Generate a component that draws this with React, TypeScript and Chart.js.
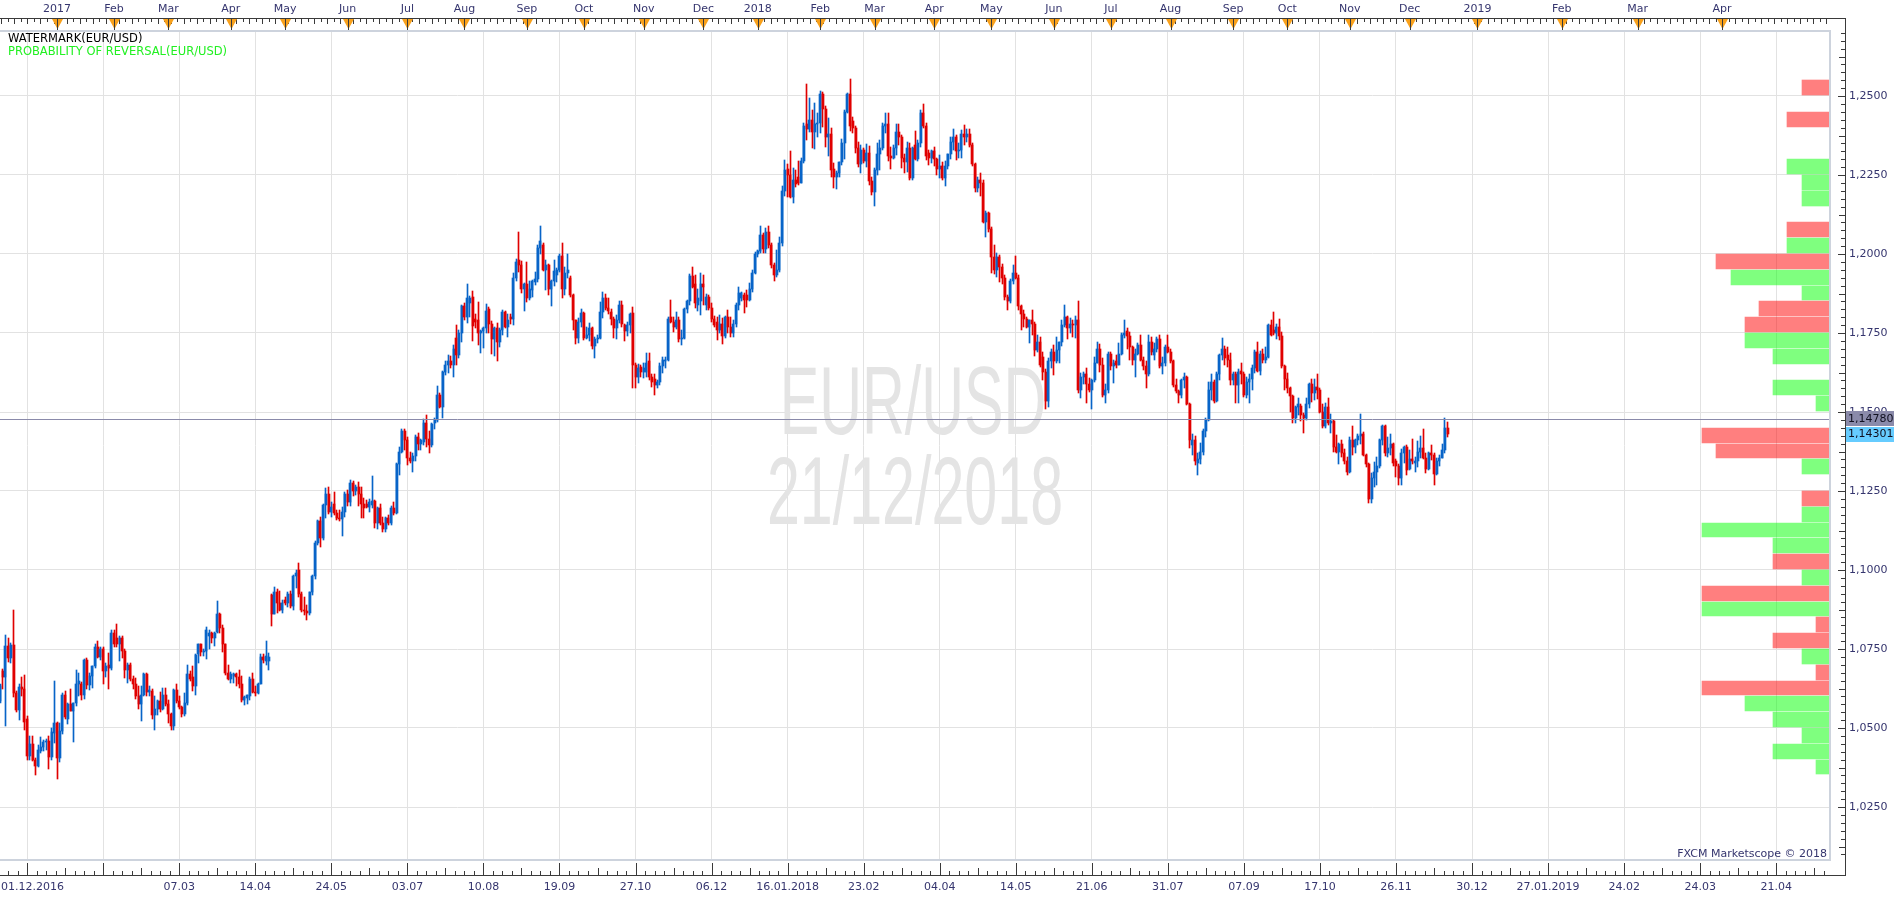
import React, { useEffect, useRef } from 'react';
import { Chart, registerables } from 'chart.js';
Chart.register(...registerables);

// Daily EUR/USD candles: [open, high, low, close] in pips above 1.0000
const dec2016 = [[585,640,578,632],[680,688,625,660],[660,793,505,760],[760,784,710,722],[722,768,705,762],[762,872,597,612],[612,618,550,558],[558,640,526,630],[630,660,600,622],[622,667,495,520],[530,537,400,410],[410,474,400,450],[450,476,394,400],[400,405,352,380],[380,447,375,430],[428,470,420,440],[440,463,426,455],[455,466,431,458],[458,476,371,408],[408,500,400,488],[484,650,453,516]];
const jan2017 = [[516,520,340,405],[405,516,391,490],[490,611,482,605],[605,618,528,535],[530,579,512,575],[575,625,553,555],[555,580,455,578],[578,682,569,640],[640,673,600,650],[640,645,590,605],[605,717,593,715],[715,720,625,635],[635,673,620,665],[665,696,626,695],[695,767,690,755],[755,775,720,725],[725,757,715,750],[750,755,640,680],[680,707,660,695],[700,738,622,690],[690,809,685,800]];
const feb2017 = [[800,810,755,765],[785,828,757,765],[765,791,712,785],[785,791,720,745],[745,749,657,685],[685,706,642,700],[700,706,648,655],[655,666,622,640],[640,657,592,600],[600,632,561,575],[575,632,521,605],[605,675,601,670],[670,675,601,615],[615,632,601,619],[618,625,527,540],[540,601,495,560],[560,590,541,585],[585,615,550,560],[560,627,558,605],[605,627,569,575]];
const mar2017 = [[575,590,516,545],[545,548,495,505],[505,622,495,620],[620,638,579,585],[585,601,560,565],[565,569,534,545],[545,611,537,580],[580,698,572,670],[670,680,648,655],[660,696,616,632],[632,735,603,730],[735,767,706,765],[765,767,727,740],[740,749,727,745],[745,819,719,810],[790,809,750,800],[800,804,770,785],[785,805,761,800],[805,903,800,862],[862,865,801,815],[815,825,741,765],[765,767,669,675],[675,698,653,655]];
const apr2017 = [[655,677,643,670],[665,675,641,670],[670,675,634,660],[660,685,627,640],[640,664,582,590],[590,601,572,598],[595,606,577,605],[600,660,590,655],[655,675,611,615],[615,634,601,610],[610,643,608,640],[640,733,638,725],[725,733,706,715],[712,775,700,728],[712,736,683,726],[920,925,823,862],[862,947,860,930],[930,940,865,895],[895,935,870,875],[875,905,865,895]];
const may2017 = [[905,915,890,897],[895,931,884,925],[925,935,879,885],[885,984,873,980],[980,1000,944,990],[1000,1023,915,925],[925,930,868,875],[875,915,858,870],[870,889,842,865],[865,931,858,930],[930,984,921,980],[980,1092,972,1085],[1085,1158,1079,1155],[1155,1169,1074,1100],[1100,1208,1095,1205],[1205,1261,1164,1240],[1240,1264,1176,1185],[1185,1216,1169,1200],[1210,1248,1175,1180],[1180,1190,1158,1165],[1165,1190,1155,1162],[1160,1200,1108,1185],[1185,1248,1169,1240]];
const jun2017 = [[1240,1253,1202,1215],[1215,1285,1202,1275],[1275,1282,1234,1250],[1250,1270,1237,1262],[1262,1277,1202,1240],[1240,1264,1166,1210],[1210,1229,1166,1195],[1210,1221,1195,1200],[1200,1225,1185,1215],[1205,1296,1195,1218],[1218,1222,1132,1150],[1150,1200,1130,1196],[1196,1208,1142,1150],[1150,1169,1119,1130],[1130,1169,1120,1165],[1165,1174,1142,1150],[1150,1202,1142,1195],[1195,1214,1174,1180],[1180,1340,1177,1335],[1335,1390,1300,1375],[1375,1445,1369,1440],[1440,1445,1380,1410]];
const jul2017 = [[1410,1422,1332,1355],[1355,1374,1338,1345],[1345,1370,1311,1360],[1360,1428,1345,1420],[1420,1432,1380,1400],[1400,1415,1380,1410],[1405,1477,1396,1465],[1465,1490,1390,1415],[1415,1440,1371,1395],[1395,1466,1390,1462],[1465,1480,1445,1475],[1475,1583,1469,1555],[1555,1560,1512,1515],[1515,1630,1480,1625],[1625,1660,1617,1650],[1650,1680,1622,1660],[1660,1677,1640,1650],[1650,1712,1612,1700],[1735,1776,1649,1680],[1680,1759,1670,1750],[1750,1839,1722,1835]];
const aug2017 = [[1835,1845,1791,1800],[1800,1905,1783,1860],[1845,1868,1802,1862],[1865,1884,1726,1773],[1795,1810,1767,1785],[1790,1849,1712,1750],[1750,1759,1688,1755],[1755,1770,1704,1765],[1765,1842,1749,1820],[1825,1831,1750,1780],[1780,1788,1684,1730],[1730,1770,1677,1765],[1765,1781,1662,1720],[1720,1765,1707,1760],[1760,1823,1744,1815],[1815,1820,1765,1770],[1770,1810,1738,1790],[1800,1810,1780,1795],[1795,1940,1775,1925],[1925,1985,1915,1975],[1980,2070,1944,1965],[1965,1978,1878,1890],[1890,1909,1821,1905]];
const sep2017 = [[1905,1976,1849,1860],[1860,1916,1855,1890],[1885,1918,1865,1915],[1910,1944,1902,1920],[1920,2030,1912,2020],[2020,2090,2000,2040],[2030,2035,1947,1950],[1950,1981,1886,1965],[1965,1968,1870,1890],[1890,1918,1836,1915],[1915,1981,1899,1945],[1935,1955,1912,1950],[1950,1999,1944,1995],[1995,2035,1860,1890],[1890,1960,1870,1940],[1940,2000,1925,1950],[1925,1930,1865,1870],[1870,1872,1759,1790],[1790,1791,1715,1735],[1735,1796,1719,1785],[1785,1825,1770,1812]];
const oct2017 = [[1812,1815,1728,1735],[1735,1770,1730,1745],[1745,1781,1725,1765],[1765,1770,1700,1710],[1710,1738,1670,1730],[1730,1745,1719,1735],[1735,1849,1730,1815],[1815,1880,1796,1860],[1860,1873,1823,1830],[1830,1860,1810,1820],[1818,1825,1775,1795],[1795,1800,1735,1765],[1765,1807,1730,1790],[1790,1852,1781,1840],[1840,1852,1770,1780],[1775,1780,1725,1755],[1755,1786,1742,1775],[1775,1812,1749,1810],[1812,1833,1575,1650],[1650,1655,1575,1610],[1610,1652,1591,1640],[1642,1650,1612,1625]];
const nov2017 = [[1625,1654,1607,1640],[1625,1686,1612,1655],[1660,1688,1601,1610],[1610,1620,1580,1595],[1605,1620,1554,1585],[1585,1600,1575,1595],[1595,1654,1585,1645],[1645,1675,1622,1665],[1660,1675,1638,1665],[1665,1802,1660,1795],[1800,1855,1783,1785],[1785,1802,1754,1770],[1770,1817,1762,1790],[1790,1802,1720,1730],[1730,1759,1712,1735],[1735,1830,1732,1825],[1825,1856,1812,1850],[1850,1936,1839,1930],[1930,1960,1891,1895],[1905,1934,1828,1845],[1840,1890,1820,1860],[1850,1940,1807,1905]];
const dec2017 = [[1905,1934,1839,1895],[1840,1873,1823,1865],[1865,1870,1823,1830],[1830,1844,1786,1795],[1795,1805,1770,1775],[1785,1802,1728,1760],[1760,1807,1749,1780],[1780,1796,1715,1740],[1740,1805,1733,1800],[1800,1823,1749,1770],[1770,1800,1738,1750],[1750,1790,1738,1780],[1780,1845,1770,1840],[1840,1894,1823,1875],[1860,1881,1850,1878],[1870,1875,1812,1855],[1870,1886,1833,1855],[1855,1907,1851,1890],[1890,1949,1881,1940],[1940,2005,1936,2000]];
const jan2018 = [[2000,2013,1992,2008],[2008,2088,2002,2060],[2060,2065,2002,2015],[2015,2081,2002,2070],[2070,2088,2018,2030],[2030,2035,1955,1965],[1965,1970,1916,1935],[1935,2013,1926,1950],[1950,2055,1942,2035],[2035,2215,2025,2200],[2200,2296,2184,2265],[2270,2285,2181,2250],[2250,2325,2176,2180],[2180,2271,2162,2235],[2235,2266,2211,2220],[2245,2295,2218,2225],[2225,2303,2224,2295],[2295,2415,2287,2405],[2410,2537,2361,2395],[2395,2495,2387,2425],[2425,2456,2334,2385],[2385,2477,2331,2410],[2410,2447,2371,2415]];
const feb2018 = [[2415,2517,2382,2505],[2505,2514,2403,2460],[2460,2468,2340,2370],[2370,2429,2310,2380],[2380,2398,2243,2265],[2270,2287,2208,2245],[2245,2264,2205,2255],[2255,2292,2245,2290],[2290,2363,2282,2350],[2350,2456,2300,2450],[2450,2510,2445,2505],[2505,2555,2390,2405],[2420,2435,2382,2400],[2400,2405,2319,2335],[2335,2355,2276,2285],[2285,2345,2255,2330],[2330,2335,2287,2295],[2295,2348,2276,2320],[2320,2342,2218,2230],[2230,2245,2187,2195]];
const mar2018 = [[2195,2271,2152,2265],[2265,2350,2250,2315],[2315,2361,2266,2335],[2335,2413,2329,2405],[2405,2445,2382,2410],[2410,2445,2294,2310],[2310,2340,2268,2305],[2305,2345,2300,2335],[2335,2410,2313,2385],[2385,2410,2345,2370],[2370,2375,2271,2305],[2305,2315,2255,2290],[2290,2355,2260,2335],[2335,2350,2234,2240],[2240,2340,2234,2335],[2345,2390,2297,2300],[2300,2361,2294,2350],[2350,2456,2340,2445],[2445,2476,2398,2405],[2405,2415,2297,2310],[2320,2330,2282,2305],[2305,2329,2289,2325]];
const apr2018 = [[2325,2340,2280,2300],[2300,2305,2250,2270],[2270,2313,2240,2280],[2280,2290,2234,2240],[2240,2295,2215,2280],[2280,2318,2270,2315],[2315,2371,2300,2355],[2355,2395,2330,2370],[2370,2375,2297,2325],[2325,2350,2305,2330],[2330,2392,2303,2380],[2380,2408,2345,2370],[2370,2394,2355,2380],[2380,2395,2340,2345],[2345,2350,2280,2285],[2285,2287,2197,2210],[2210,2245,2197,2235],[2235,2255,2185,2225],[2225,2235,2097,2100],[2100,2135,2055,2130],[2130,2134,2071,2080]];
const may2018 = [[2080,2085,1939,1990],[1990,2028,1937,1950],[1950,2002,1928,1990],[1990,1998,1910,1960],[1960,1968,1905,1925],[1925,1935,1854,1865],[1865,1870,1823,1850],[1850,1920,1845,1915],[1915,1965,1905,1940],[1940,1995,1920,1925],[1925,1935,1823,1835],[1835,1840,1760,1810],[1810,1823,1770,1795],[1795,1800,1765,1770],[1770,1791,1717,1790],[1790,1823,1744,1780],[1780,1785,1676,1695],[1695,1745,1690,1720],[1720,1738,1643,1650],[1675,1690,1600,1625],[1625,1635,1510,1535],[1535,1670,1517,1660],[1660,1700,1640,1690]];
const jun2018 = [[1690,1712,1617,1660],[1660,1738,1654,1695],[1695,1722,1656,1720],[1720,1791,1709,1775],[1775,1840,1770,1800],[1800,1805,1730,1765],[1765,1796,1750,1780],[1780,1791,1738,1775],[1775,1805,1733,1790],[1790,1852,1560,1570],[1570,1622,1545,1610],[1610,1625,1590,1620],[1620,1638,1530,1590],[1590,1607,1564,1570],[1570,1605,1508,1600],[1600,1675,1595,1655],[1655,1720,1654,1700],[1700,1714,1628,1650],[1650,1670,1548,1555],[1555,1590,1527,1570],[1570,1690,1560,1685]];
const jul2018 = [[1685,1690,1633,1645],[1645,1665,1591,1655],[1660,1680,1638,1650],[1650,1717,1649,1685],[1685,1749,1680,1745],[1745,1791,1733,1750],[1755,1765,1700,1740],[1740,1754,1664,1705],[1705,1710,1650,1665],[1665,1700,1612,1685],[1685,1717,1680,1712],[1712,1745,1660,1665],[1665,1675,1633,1645],[1645,1660,1575,1620],[1620,1744,1615,1720],[1720,1738,1680,1690],[1680,1717,1664,1700],[1700,1738,1690,1730],[1730,1745,1640,1645],[1645,1675,1620,1655],[1655,1712,1646,1705],[1705,1745,1686,1690]];
const aug2018 = [[1690,1700,1654,1660],[1660,1665,1578,1585],[1585,1604,1559,1565],[1565,1570,1529,1555],[1555,1604,1545,1600],[1600,1622,1575,1610],[1610,1614,1522,1525],[1525,1530,1385,1410],[1395,1430,1364,1410],[1410,1424,1332,1345],[1340,1369,1301,1350],[1350,1401,1335,1375],[1375,1445,1364,1440],[1440,1480,1420,1475],[1475,1596,1470,1570],[1570,1620,1538,1595],[1595,1600,1529,1535],[1535,1625,1533,1620],[1620,1685,1600,1680],[1680,1735,1664,1700],[1700,1710,1650,1670],[1680,1707,1643,1665],[1665,1686,1585,1600]];
const sep2018 = [[1600,1625,1585,1620],[1620,1625,1527,1585],[1585,1635,1530,1625],[1630,1656,1590,1620],[1620,1625,1546,1555],[1555,1612,1545,1595],[1595,1620,1530,1605],[1605,1650,1570,1640],[1640,1696,1622,1690],[1690,1722,1628,1630],[1630,1693,1617,1685],[1685,1700,1654,1665],[1665,1707,1654,1675],[1675,1780,1670,1775],[1775,1790,1740,1745],[1760,1815,1745,1750],[1750,1780,1730,1770],[1770,1795,1728,1740],[1740,1754,1638,1645],[1645,1649,1570,1605]];
const oct2018 = [[1605,1622,1560,1575],[1575,1580,1500,1550],[1550,1555,1464,1480],[1480,1520,1465,1515],[1515,1543,1490,1525],[1520,1525,1470,1490],[1490,1497,1432,1480],[1480,1543,1475,1525],[1525,1593,1512,1590],[1590,1603,1533,1560],[1560,1603,1538,1580],[1580,1620,1540,1570],[1570,1575,1496,1500],[1500,1525,1448,1455],[1455,1527,1450,1515],[1515,1543,1459,1465],[1465,1495,1435,1470],[1470,1475,1374,1390],[1390,1427,1370,1375],[1375,1401,1335,1400],[1400,1411,1359,1370],[1370,1382,1337,1345],[1345,1359,1302,1310]];
const nov2018 = [[1310,1420,1308,1410],[1410,1455,1365,1390],[1390,1415,1370,1410],[1410,1430,1395,1425],[1425,1495,1400,1430],[1430,1438,1360,1365],[1365,1368,1327,1335],[1335,1340,1213,1225],[1225,1306,1213,1290],[1290,1343,1264,1310],[1310,1359,1269,1330],[1330,1414,1322,1410],[1410,1459,1395,1455],[1455,1460,1360,1370],[1370,1422,1359,1385],[1385,1430,1365,1400],[1400,1401,1330,1340],[1345,1350,1295,1330],[1330,1335,1268,1290],[1290,1382,1269,1370],[1370,1392,1340,1390],[1390,1395,1300,1315]];
const dec2018 = [[1320,1380,1316,1350],[1350,1414,1337,1345],[1340,1359,1311,1345],[1345,1409,1325,1375],[1375,1425,1356,1385],[1385,1445,1350,1355],[1355,1370,1308,1320],[1320,1375,1315,1370],[1370,1395,1348,1365],[1365,1370,1270,1305],[1305,1353,1300,1345],[1345,1365,1330,1355],[1355,1399,1353,1380],[1380,1480,1369,1450],[1450,1468,1420,1430]];

const monthBlocks = [dec2016, jan2017, feb2017, mar2017, apr2017, may2017, jun2017, jul2017, aug2017, sep2017, oct2017, nov2017, dec2017, jan2018, feb2018, mar2018, apr2018, may2018, jun2018, jul2018, aug2018, sep2018, oct2018, nov2018, dec2018];

// Top (month) axis
const monthLabels = ['2017','Feb','Mar','Apr','May','Jun','Jul','Aug','Sep','Oct','Nov','Dec','2018','Feb','Mar','Apr','May','Jun','Jul','Aug','Sep','Oct','Nov','Dec','2019','Feb','Mar','Apr'];
const futureMonthStarts = [544, 575, 603, 634]; // Jan..Apr 2019, calendar-day slots after the last bar

// Bottom (date) axis
const dateTickIdx = [10,38,66,94,122,150,178,206,234,262,290,318,346,374,402,430,458,486,514,542,570,598,626,654];
const dateLabels = ['','','07.03','14.04','24.05','03.07','10.08','19.09','27.10','06.12','16.01.2018','23.02','04.04','14.05','21.06','31.07','07.09','17.10','26.11','30.12','27.01.2019','24.02','24.03','21.04'];
const firstDateLabel = '01.12.2016';

// Price axis
const priceTicks = [1.025,1.05,1.075,1.1,1.125,1.15,1.175,1.2,1.225,1.25];
const lastPrice = 1.1478;
const bidPrice = 1.14301;

// Probability of reversal histogram: bin lower edge (price), length (units), side
const reversalBinLow = [1.2500,1.2400,1.2250,1.2200,1.2150,1.2050,1.2000,1.1950,1.1900,1.1850,1.1800,1.1750,1.1700,1.1650,1.1550,1.1500,1.1400,1.1350,1.1300,1.1200,1.1150,1.1100,1.1050,1.1000,1.0950,1.0900,1.0850,1.0800,1.0750,1.0700,1.0650,1.0600,1.0550,1.0500,1.0450,1.0400,1.0350];
const reversalUnits = [2,3,3,2,2,3,3,8,7,2,5,6,6,4,4,1,9,8,2,2,2,9,4,4,2,9,9,1,4,2,1,9,6,4,2,4,1];
const reversalSide = ['r','r','g','g','g','r','g','r','g','g','r','r','g','g','g','g','r','r','g','r','g','g','g','r','g','r','g','r','r','g','r','r','g','g','g','g','g'];
const binSize = 0.005;

const W = 1903, H = 900;
const PLOT_RIGHT = 1830, PLOT_TOP = 31, PLOT_BOTTOM = 860;
const X_MIN = 0, X_MAX = 673.8;
const Y_MAX = 1.25 + (96 - PLOT_TOP) / 3160;
const Y_MIN = 1.25 - (PLOT_BOTTOM - 96) / 3160;
const HIST_MAX = PLOT_RIGHT / 14.2;

const BLUE = '#0864c8';
const RED = '#e00000';
const AXIS_TEXT = '#35356e';
const FONT = '"DejaVu Sans", Verdana, sans-serif';

export default function App() {
  const ref = useRef<HTMLCanvasElement | null>(null);

  useEffect(() => {
    document.body.style.margin = '0';
    const canvas = ref.current;
    if (!canvas) return;

    const candles: number[][] = ([] as number[][]).concat(...monthBlocks);
    const px = (v: number) => 1 + v / 10000;
    const wickData = candles.map((c, i) => ({ x: i, y: [px(c[2]), px(c[1])] }));
    const bodyData = candles.map((c, i) => {
      const lo = Math.min(c[0], c[3]);
      const hi = Math.max(c[0], c[3], lo + 3);
      return { x: i, y: [px(lo), px(hi)] };
    });
    const colors = candles.map((c) => (c[3] >= c[0] ? BLUE : RED));

    const monthStarts: number[] = [];
    let acc = 0;
    monthBlocks.forEach((m, k) => {
      if (k > 0) monthStarts.push(acc);
      acc += m.length;
    });
    const allMonthStarts = monthStarts.concat(futureMonthStarts);

    const histData = reversalBinLow.map((lo, k) => ({ x: reversalUnits[k], y: lo + binSize / 2 }));
    const histColors = reversalSide.map((s) => (s === 'r' ? 'rgba(255,0,0,0.5)' : 'rgba(0,255,0,0.5)'));

    const decor = {
      id: 'decor',
      beforeDatasetsDraw(chart: any) {
        const ctx = chart.ctx;
        const ys = chart.scales.y;
        // snap candle rectangles to whole pixels (crisp 1px wicks / 2px bodies)
        const bodies = chart.getDatasetMeta(1).data;
        bodies.forEach((el: any) => {
          el.x = Math.round(el.x);
          const top = Math.round(el.y);
          let base = Math.round(el.base);
          if (base - top < 1) base = top + 1;
          el.y = top;
          el.base = base;
        });
        const wicks = chart.getDatasetMeta(2).data;
        wicks.forEach((el: any) => {
          el.x = Math.round(el.x - 0.5) + 0.5;
          el.y = Math.round(el.y);
          el.base = Math.round(el.base);
        });
        // histogram bars: fill each price bin, leaving a 1px separator
        const hist = chart.getDatasetMeta(3).data;
        hist.forEach((el: any, k: number) => {
          const top = Math.round(ys.getPixelForValue(reversalBinLow[k] + binSize));
          const bottom = Math.round(ys.getPixelForValue(reversalBinLow[k])) - 1;
          el.y = (top + bottom) / 2;
          el.height = bottom - top;
          el.x = Math.round(el.x);
          el.base = Math.round(el.base);
        });
        const line = chart.getDatasetMeta(0).data;
        line.forEach((el: any) => { el.y = Math.round(el.y) + 0.5; });

        ctx.save();
        ctx.beginPath();
        const ca = chart.chartArea;
        ctx.rect(ca.left, ca.top, ca.right - ca.left, ca.bottom - ca.top);
        ctx.clip();
        ctx.fillStyle = '#e4e4e4';
        ctx.font = '97px "Liberation Sans", Arial, sans-serif';
        ctx.textAlign = 'center';
        ctx.textBaseline = 'alphabetic';
        ctx.save();
        ctx.translate(913, 434);
        ctx.scale(0.61, 1);
        ctx.fillText('EUR/USD', 0, 0);
        ctx.restore();
        ctx.save();
        ctx.translate(915, 524);
        ctx.scale(0.61, 1);
        ctx.fillText('21/12/2018', 0, 0);
        ctx.restore();
        ctx.restore();
      },
      afterDraw(chart: any) {
        const ctx = chart.ctx;
        const ca = chart.chartArea;
        const xs = chart.scales.x;
        const ys = chart.scales.y;
        ctx.save();

        // plot frame
        ctx.fillStyle = '#cdd3dd';
        ctx.fillRect(0, ca.top - 1, ca.right, 2);
        ctx.fillRect(ca.right - 1, ca.top - 1, 2, ca.bottom - ca.top + 2);
        ctx.fillRect(0, ca.bottom - 1, ca.right + 1, 2);

        // axis lines
        const axisX = 1845;
        const topY = 18;
        const botY = 875;
        ctx.fillStyle = '#3a3a3a';
        ctx.fillRect(0, topY, axisX + 1, 1);
        ctx.fillRect(axisX, topY, 1, botY - topY + 1);
        ctx.fillRect(0, botY, axisX + 1, 1);

        // top axis minor ticks
        let n = 0;
        for (let v = 0.5; v < X_MAX; v += 2.4) {
          const x = Math.round(xs.getPixelForValue(v));
          ctx.fillRect(x, topY + 1, 1, n % 2 === 0 ? 5 : 3);
          n++;
        }
        // top axis month ticks and triangles
        allMonthStarts.forEach((m) => {
          const x = Math.round(xs.getPixelForValue(m));
          ctx.fillStyle = '#f9a11b';
          ctx.beginPath();
          ctx.moveTo(x - 5, topY + 1);
          ctx.lineTo(x + 6, topY + 1);
          ctx.lineTo(x + 0.5, topY + 11);
          ctx.closePath();
          ctx.fill();
          ctx.fillStyle = '#3a3a3a';
          ctx.fillRect(x, topY + 1, 1, ca.top - topY - 2);
        });

        // bottom axis ticks
        ctx.fillStyle = '#3a3a3a';
        for (let k = -1; k < dateTickIdx.length + 1; k++) {
          const base = 10 + 28 * k;
          for (let j = 0; j < 8; j++) {
            const v = base + 3.5 * j;
            if (v < X_MIN || v > X_MAX) continue;
            const x = Math.round(xs.getPixelForValue(v));
            const len = j === 0 ? 12 : j === 4 ? 7 : 4;
            ctx.fillRect(x, botY - len, 1, len);
          }
        }

        // price axis ticks
        for (let v = 1.0100; v < Y_MAX; v += 0.0025) {
          const y = Math.round(ys.getPixelForValue(v));
          const r = Math.round(v * 10000) % 250;
          const len = r === 0 ? 7 : Math.round(v * 10000) % 125 === 0 ? 6 : 4;
          ctx.fillRect(axisX - len, y, len, 1);
        }

        // first date label
        ctx.font = '11px ' + FONT;
        ctx.fillStyle = AXIS_TEXT;
        ctx.textAlign = 'left';
        ctx.textBaseline = 'middle';
        ctx.fillText(firstDateLabel, 1, 887.6);

        // indicator legend
        ctx.font = '11.5px ' + FONT;
        ctx.fillStyle = '#000000';
        ctx.fillText('WATERMARK(EUR/USD)', 8, 39);
        ctx.fillStyle = '#22f022';
        ctx.fillText('PROBABILITY OF REVERSAL(EUR/USD)', 8, 52);

        // copyright
        ctx.font = '11px ' + FONT;
        ctx.fillStyle = AXIS_TEXT;
        ctx.textAlign = 'right';
        ctx.fillText('FXCM Marketscope \u00a9 2018', ca.right - 3, 854);

        // price boxes
        const box = (p: number, bg: string, txt: string) => {
          const y = ys.getPixelForValue(p);
          ctx.fillStyle = bg;
          ctx.fillRect(axisX + 1, Math.round(y - 7.5), 48, 15);
          ctx.fillStyle = '#101020';
          ctx.textAlign = 'left';
          ctx.fillText(txt, axisX + 3, y + 0.5);
        };
        box(lastPrice, '#8a8aaa', lastPrice.toFixed(5).replace('.', ','));
        box(bidPrice, '#66ccff', bidPrice.toFixed(5).replace('.', ','));
        ctx.restore();
      },
    };

    const chart = new Chart(canvas, {
      type: 'bar',
      data: {
        datasets: [
          {
            type: 'line',
            data: [{ x: X_MIN, y: lastPrice }, { x: X_MAX, y: lastPrice }],
            borderColor: '#8a8aaa',
            borderWidth: 1,
            pointRadius: 0,
            xAxisID: 'x',
            yAxisID: 'y',
            order: 0,
          } as any,
          {
            type: 'bar',
            data: bodyData as any,
            backgroundColor: colors,
            barThickness: 2,
            grouped: false,
            xAxisID: 'x',
            yAxisID: 'y',
            order: 1,
          } as any,
          {
            type: 'bar',
            data: wickData as any,
            backgroundColor: colors,
            barThickness: 1,
            grouped: false,
            xAxisID: 'x',
            yAxisID: 'y',
            order: 2,
          } as any,
          {
            type: 'bar',
            indexAxis: 'y',
            data: histData as any,
            backgroundColor: histColors,
            barThickness: 15,
            grouped: false,
            xAxisID: 'xHist',
            yAxisID: 'y',
            order: 3,
          } as any,
        ],
      },
      options: {
        responsive: false,
        maintainAspectRatio: false,
        animation: false,
        events: [],
        layout: { padding: 0 },
        font: { family: FONT, size: 11 },
        plugins: { legend: { display: false }, tooltip: { enabled: false } },
        scales: {
          x: {
            type: 'linear',
            position: 'bottom',
            offset: false,
            min: X_MIN,
            max: X_MAX,
            afterBuildTicks: (s: any) => { s.ticks = dateTickIdx.map((v) => ({ value: v })); },
            afterFit: (s: any) => { s.height = H - PLOT_BOTTOM; },
            ticks: {
              autoSkip: false, maxRotation: 0, minRotation: 0, padding: 21,
              color: AXIS_TEXT, font: { family: FONT, size: 11 },
              callback: (_v: any, i: number) => dateLabels[i],
            },
            grid: { color: '#e2e2e2', lineWidth: 1, drawTicks: false, offset: false },
            border: { display: false },
          },
          xTop: {
            type: 'linear',
            position: 'top',
            offset: false,
            min: X_MIN,
            max: X_MAX,
            afterBuildTicks: (s: any) => { s.ticks = allMonthStarts.map((v) => ({ value: v })); },
            afterFit: (s: any) => { s.height = PLOT_TOP; },
            ticks: {
              autoSkip: false, maxRotation: 0, minRotation: 0, padding: 15,
              color: AXIS_TEXT, font: { family: FONT, size: 11 },
              callback: (_v: any, i: number) => monthLabels[i],
            },
            grid: { display: false, drawTicks: false, offset: false },
            border: { display: false },
          },
          xHist: {
            type: 'linear',
            display: false,
            offset: false,
            reverse: true,
            min: 0,
            max: HIST_MAX,
            grid: { offset: false },
          },
          y: {
            type: 'linear',
            position: 'right',
            offset: false,
            min: Y_MIN,
            max: Y_MAX,
            afterBuildTicks: (s: any) => { s.ticks = priceTicks.map((v) => ({ value: v })); },
            afterFit: (s: any) => { s.width = W - PLOT_RIGHT; },
            ticks: {
              autoSkip: false, padding: 19,
              color: AXIS_TEXT, font: { family: FONT, size: 11 },
              callback: (v: any) => Number(v).toFixed(4).replace('.', ','),
            },
            grid: { color: '#e2e2e2', lineWidth: 1, drawTicks: false, offset: false },
            border: { display: false },
          },
        } as any,
      },
      plugins: [decor],
    } as any);

    return () => chart.destroy();
  }, []);

  return (
    <div style={{ width: W, height: H, position: 'relative', background: '#ffffff' }}>
      <canvas ref={ref} width={W} height={H} style={{ display: 'block', width: W, height: H }} />
    </div>
  );
}
